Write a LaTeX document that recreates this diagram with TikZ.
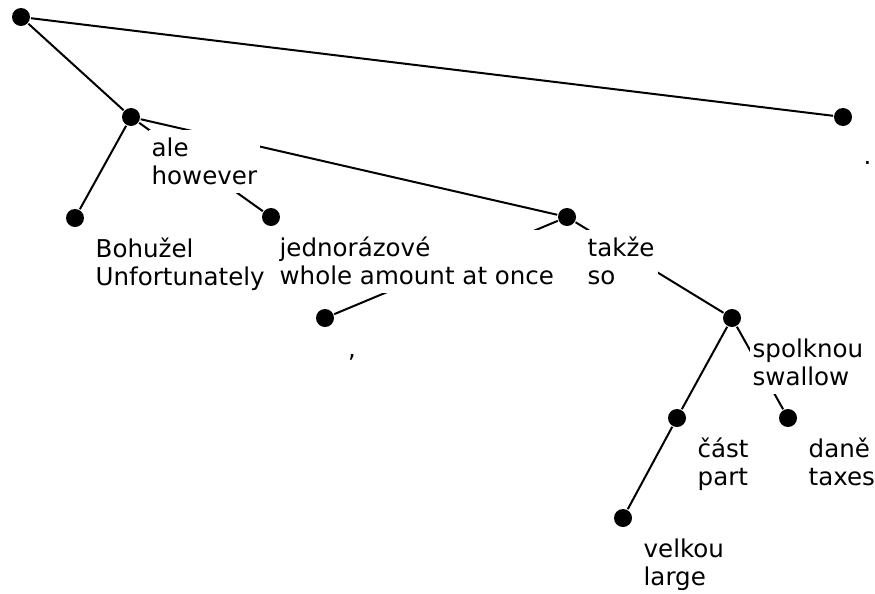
\documentclass[tikz,border=0pt]{standalone}
\usepackage{fontspec}
\setmainfont{DejaVu Sans}
\usetikzlibrary{positioning}

\tikzset{
  dot/.style={circle, fill, inner sep=0pt, minimum size=13.5pt},
  word/.style={fill=white, inner xsep=2.25pt, inner ysep=0pt, align=left,
    font=\fontsize{18.4}{21}\selectfont},
}
% word and its English gloss under it
\newcommand{\gloss}[2]{\rule{0pt}{20.25pt}#1\\#2\rule[-6.5pt]{0pt}{6.5pt}}
\newcommand{\punct}[1]{\rule{0pt}{20.25pt}#1\rule[-6.5pt]{0pt}{6.5pt}}

\begin{document}
\begin{tikzpicture}[x=0.75pt, y=-0.75pt, line width=1.5pt, node distance=3.5pt and 7.2pt]
  \useasboundingbox (0,0) rectangle (875,593);

  % one dot per word, rows by depth in the tree
  \node[dot] (root) at (21,17) {};
  \node[dot] (ale) at (131,117) {};
  \node[dot] (tecka) at (843,117) {};
  \node[dot] (bohuzel) at (75,218) {};
  \node[dot] (jednorazove) at (271,217) {};
  \node[dot] (takze) at (567,217) {};
  \node[dot] (carka) at (325,318) {};
  \node[dot] (spolknou) at (732,318) {};
  \node[dot] (cast) at (677,418) {};
  \node[dot] (dane) at (788,418) {};
  \node[dot] (velkou) at (623,518) {};

  \draw (root) -- (ale);
  \draw (root) -- (tecka);
  \draw (ale) -- (bohuzel);
  \draw (ale) -- (jednorazove);
  \draw (ale) -- (takze);
  \draw (takze) -- (carka);
  \draw (takze) -- (spolknou);
  \draw (spolknou) -- (cast);
  \draw (spolknou) -- (dane);
  \draw (cast) -- (velkou);

  % labels go on top and cut the lines
  \node[word, below right=of ale] (ale-l) {\gloss{ale}{however}};
  \node[word, below right=9.5pt and 7.2pt of tecka] (tecka-l) {\punct{.}};
  \node[word, below right=of bohuzel] (bohuzel-l) {\gloss{Bohužel}{Unfortunately}};
  % pushed left, it would run into the gloss before it
  \node[word, below right=3.5pt and -1.8pt of jednorazove] (jednorazove-l) {\gloss{jednorázové}{whole amount at once}};
  \node[word, below right=of takze] (takze-l) {\gloss{takže}{so}};
  \node[word, below right=3.5pt and 9pt of carka] (carka-l) {\punct{,}};
  \node[word, below right=of spolknou] (spolknou-l) {\gloss{spolknou}{swallow}};
  \node[word, below right=of cast] (cast-l) {\gloss{část}{part}};
  \node[word, below right=of dane] (dane-l) {\gloss{daně}{taxes}};
  \node[word, below right=of velkou] (velkou-l) {\gloss{velkou}{large}};
\end{tikzpicture}
\end{document}
